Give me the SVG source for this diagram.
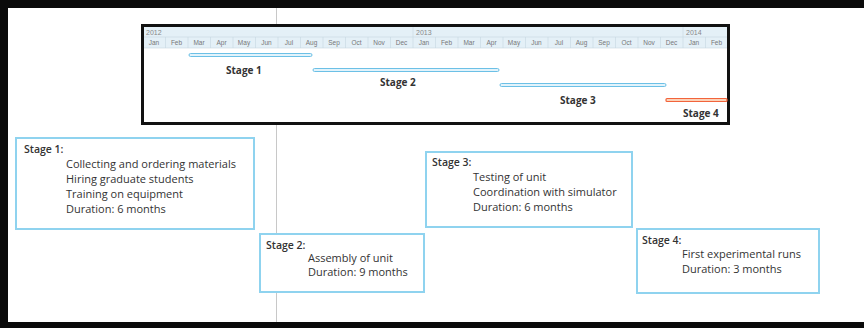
<svg xmlns="http://www.w3.org/2000/svg" width="864" height="328" viewBox="0 0 864 328">
<style>
.hdr{font-family:"Liberation Sans",Arial,sans-serif;font-size:6.5px;fill:#777;text-anchor:middle}
.yr{font-family:"Liberation Sans",Arial,sans-serif;font-size:7px;fill:#888}
.lbl{font-family:"Open Sans","Liberation Sans",sans-serif;font-size:10px;font-weight:bold;fill:#333}
.hd{font-family:"Open Sans","Liberation Sans",sans-serif;font-size:10.5px;font-weight:600;fill:#333}
.txt{font-family:"Open Sans","Liberation Sans",sans-serif;font-size:11px;fill:#333}
.box{fill:#fff;stroke:#8fd3ef;stroke-width:2}
.bar{fill:#e2f3fb;stroke:#6cc0e6;stroke-width:1}
.bar4{fill:#fbd2b8;stroke:#f2643c;stroke-width:1.2}
</style>
<rect x="0" y="0" width="864" height="328" fill="#0a0a0a"/>
<rect x="8" y="8" width="856" height="314" fill="#fff"/>
<line x1="276.5" y1="8" x2="276.5" y2="322" stroke="#c8c8c8" stroke-width="1"/>
<g id="gantt">
<rect x="142.5" y="25.5" width="586" height="98" fill="#fff" stroke="#111" stroke-width="3"/>
<rect x="144" y="27" width="583" height="21" fill="#e4f0f7"/>
<line x1="144" y1="37" x2="727" y2="37" stroke="#c6d6e0" stroke-width="0.6"/>
<line x1="144" y1="48" x2="727" y2="48" stroke="#c6d6e0" stroke-width="0.6"/>
<line x1="413" y1="27" x2="413" y2="37" stroke="#c6d6e0" stroke-width="0.6"/>
<line x1="683" y1="27" x2="683" y2="37" stroke="#c6d6e0" stroke-width="0.6"/>
<text class="yr" x="146" y="35">2012</text>
<text class="yr" x="416" y="35">2013</text>
<text class="yr" x="686" y="35">2014</text>
<g stroke="#c6d6e0" stroke-width="0.6">
<line x1="165.5" y1="37" x2="165.5" y2="48"/><line x1="188" y1="37" x2="188" y2="48"/><line x1="210.5" y1="37" x2="210.5" y2="48"/><line x1="233" y1="37" x2="233" y2="48"/><line x1="255.5" y1="37" x2="255.5" y2="48"/><line x1="278" y1="37" x2="278" y2="48"/><line x1="300.5" y1="37" x2="300.5" y2="48"/><line x1="323" y1="37" x2="323" y2="48"/><line x1="345.5" y1="37" x2="345.5" y2="48"/><line x1="368" y1="37" x2="368" y2="48"/><line x1="390.5" y1="37" x2="390.5" y2="48"/><line x1="413" y1="37" x2="413" y2="48"/><line x1="435.5" y1="37" x2="435.5" y2="48"/><line x1="458" y1="37" x2="458" y2="48"/><line x1="480.5" y1="37" x2="480.5" y2="48"/><line x1="503" y1="37" x2="503" y2="48"/><line x1="525.5" y1="37" x2="525.5" y2="48"/><line x1="548" y1="37" x2="548" y2="48"/><line x1="570.5" y1="37" x2="570.5" y2="48"/><line x1="593" y1="37" x2="593" y2="48"/><line x1="615.5" y1="37" x2="615.5" y2="48"/><line x1="638" y1="37" x2="638" y2="48"/><line x1="660.5" y1="37" x2="660.5" y2="48"/><line x1="683" y1="37" x2="683" y2="48"/><line x1="705.5" y1="37" x2="705.5" y2="48"/>
</g>
<g>
<text class="hdr" x="154" y="45">Jan</text><text class="hdr" x="176.5" y="45">Feb</text><text class="hdr" x="199" y="45">Mar</text><text class="hdr" x="221.5" y="45">Apr</text><text class="hdr" x="244" y="45">May</text><text class="hdr" x="266.5" y="45">Jun</text><text class="hdr" x="289" y="45">Jul</text><text class="hdr" x="311.5" y="45">Aug</text><text class="hdr" x="334" y="45">Sep</text><text class="hdr" x="356.5" y="45">Oct</text><text class="hdr" x="379" y="45">Nov</text><text class="hdr" x="401.5" y="45">Dec</text>
<text class="hdr" x="424" y="45">Jan</text><text class="hdr" x="446.5" y="45">Feb</text><text class="hdr" x="469" y="45">Mar</text><text class="hdr" x="491.5" y="45">Apr</text><text class="hdr" x="514" y="45">May</text><text class="hdr" x="536.5" y="45">Jun</text><text class="hdr" x="559" y="45">Jul</text><text class="hdr" x="581.5" y="45">Aug</text><text class="hdr" x="604" y="45">Sep</text><text class="hdr" x="626.5" y="45">Oct</text><text class="hdr" x="649" y="45">Nov</text><text class="hdr" x="671.5" y="45">Dec</text>
<text class="hdr" x="694" y="45">Jan</text><text class="hdr" x="716.5" y="45">Feb</text>
</g>
</g>
<g id="bar1"><rect class="bar" x="189" y="53.5" width="123" height="3" rx="1.5"/><text class="lbl" x="226" y="74">Stage 1</text></g>
<g id="bar2"><rect class="bar" x="313" y="68.5" width="186" height="3" rx="1.5"/><text class="lbl" x="380" y="86">Stage 2</text></g>
<g id="bar3"><rect class="bar" x="500" y="83.5" width="166" height="3" rx="1.5"/><text class="lbl" x="560" y="104">Stage 3</text></g>
<g id="bar4"><rect class="bar4" x="666" y="98.5" width="61" height="3" rx="1"/><text class="lbl" x="683" y="117">Stage 4</text></g>
<g id="stage1">
<rect class="box" x="16" y="138" width="238" height="91"/>
<text class="hd" x="24" y="153">Stage 1:</text>
<text class="txt" x="66" y="168">Collecting and ordering materials</text>
<text class="txt" x="66" y="183">Hiring graduate students</text>
<text class="txt" x="66" y="198">Training on equipment</text>
<text class="txt" x="66" y="213">Duration: 6 months</text>
</g>
<g id="stage2">
<rect class="box" x="260" y="234" width="164" height="58"/>
<text class="hd" x="266" y="249">Stage 2:</text>
<text class="txt" x="308" y="262">Assembly of unit</text>
<text class="txt" x="308" y="276">Duration: 9 months</text>
</g>
<g id="stage3">
<rect class="box" x="426" y="152" width="206" height="75"/>
<text class="hd" x="432" y="166">Stage 3:</text>
<text class="txt" x="473" y="181">Testing of unit</text>
<text class="txt" x="473" y="196">Coordination with simulator</text>
<text class="txt" x="473" y="211">Duration: 6 months</text>
</g>
<g id="stage4">
<rect class="box" x="637" y="229" width="182" height="64"/>
<text class="hd" x="642" y="244">Stage 4:</text>
<text class="txt" x="682" y="258">First experimental runs</text>
<text class="txt" x="682" y="273">Duration: 3 months</text>
</g>
<g id="connectors"></g>
</svg>
